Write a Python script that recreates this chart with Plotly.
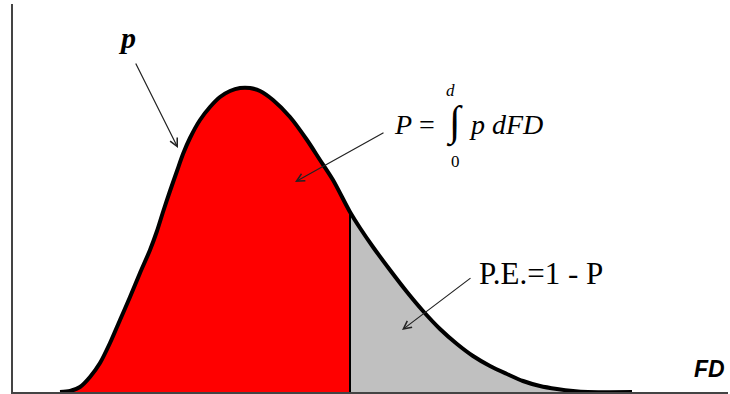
import plotly.graph_objects as go

# Curve (FD in arbitrary units, p = density)
fd_values = [47, 57, 67, 77, 87, 97, 107, 117, 127, 137, 144, 150, 157, 164, 170, 177,
             187, 197, 207, 217, 227, 237, 247, 260, 277, 294, 307, 320, 337, 347, 360,
             377, 394, 410, 427, 444, 460, 477, 494, 510, 527, 544, 560, 575, 619]
p_values = [0, 1, 5, 15, 29, 49, 72, 95, 119, 142, 161, 180, 201, 221, 238, 254,
            272, 285, 295, 301, 304, 304, 301, 292, 275, 252, 232, 212, 180, 164, 145,
            122, 100, 81, 63, 48, 36, 26, 18, 11, 6, 3, 1, 0, 0]
d_value = 337  # upper integration limit (split between P and P.E.)

x_max = 715
y_max = 388

red_x = [x for x in fd_values if x <= d_value]
red_y = [p_values[fd_values.index(x)] for x in red_x]
gray_x = [x for x in fd_values if x >= d_value]
gray_y = [p_values[fd_values.index(x)] for x in gray_x]
d_p = p_values[fd_values.index(d_value)]

fig = go.Figure()
fig.add_trace(go.Scatter(x=red_x, y=red_y, mode="lines",
                         line=dict(width=0, shape="spline", smoothing=0.8),
                         fill="tozeroy", fillcolor="#FF0000", hoverinfo="skip"))
fig.add_trace(go.Scatter(x=gray_x, y=gray_y, mode="lines",
                         line=dict(width=0, shape="spline", smoothing=0.8),
                         fill="tozeroy", fillcolor="#C0C0C0", hoverinfo="skip"))
fig.add_trace(go.Scatter(x=[d_value, d_value], y=[0, d_p], mode="lines",
                         line=dict(color="black", width=2), hoverinfo="skip"))
fig.add_trace(go.Scatter(x=fd_values, y=p_values, mode="lines",
                         line=dict(color="black", width=4, shape="spline", smoothing=0.8),
                         hoverinfo="skip"))

serif = "Liberation Serif, Times New Roman, serif"
sans = "Liberation Sans, Arial, sans-serif"

ann = []
# p label and arrow
ann.append(dict(x=114, y=355, text="<b><i>p</i></b>", showarrow=False,
                font=dict(family=serif, size=30, color="black"),
                xanchor="center", yanchor="middle"))
ann.append(dict(x=165, y=244, ax=122, ay=330, axref="x", ayref="y", text="",
                showarrow=True, arrowhead=5, arrowsize=1.3, arrowwidth=1.2, arrowcolor="#222"))
# integral formula
ann.append(dict(x=379, y=268, text="<i>P</i> =", showarrow=False,
                font=dict(family=serif, size=28, color="black"),
                xanchor="left", yanchor="middle"))
ann.append(dict(x=441, y=270, text="∫", showarrow=False,
                font=dict(family=serif, size=42, color="black"),
                xanchor="center", yanchor="middle"))
ann.append(dict(x=437, y=302, text="<i>d</i>", showarrow=False,
                font=dict(family=serif, size=17, color="black"),
                xanchor="center", yanchor="middle"))
ann.append(dict(x=442, y=231, text="0", showarrow=False,
                font=dict(family=serif, size=17, color="black"),
                xanchor="center", yanchor="middle"))
ann.append(dict(x=454, y=268, text="<i>p dFD</i>", showarrow=False,
                font=dict(family=serif, size=28, color="black"),
                xanchor="left", yanchor="middle"))
ann.append(dict(x=282, y=210, ax=372, ay=260, axref="x", ayref="y", text="",
                showarrow=True, arrowhead=5, arrowsize=1.3, arrowwidth=1.2, arrowcolor="#222"))
# P.E. label
ann.append(dict(x=464, y=119, text="P.E.=1 - P", showarrow=False,
                font=dict(family=serif, size=31, color="black"),
                xanchor="left", yanchor="middle"))
ann.append(dict(x=389, y=62, ax=459, ay=115, axref="x", ayref="y", text="",
                showarrow=True, arrowhead=5, arrowsize=1.3, arrowwidth=1.2, arrowcolor="#222"))
# FD axis label
ann.append(dict(x=714, y=23, text="<b><i>FD</i></b>", showarrow=False,
                font=dict(family=sans, size=23, color="black"),
                xanchor="right", yanchor="middle"))

fig.update_layout(
    width=730, height=394,
    margin=dict(l=13, r=2, t=4, b=2),
    paper_bgcolor="white", plot_bgcolor="white",
    showlegend=False, hovermode=False,
    annotations=ann,
    xaxis=dict(range=[0, x_max], showgrid=False, zeroline=False, showticklabels=False,
               ticks="", showline=True, linecolor="#444", linewidth=2, fixedrange=True),
    yaxis=dict(range=[0, y_max], showgrid=False, zeroline=False, showticklabels=False,
               ticks="", showline=True, linecolor="#444", linewidth=2, fixedrange=True),
)

fig.write_html("out.html", config={"displayModeBar": False},
               post_script="document.body.style.margin='0';document.body.style.padding='0';"
                           "document.body.style.overflow='hidden';")
